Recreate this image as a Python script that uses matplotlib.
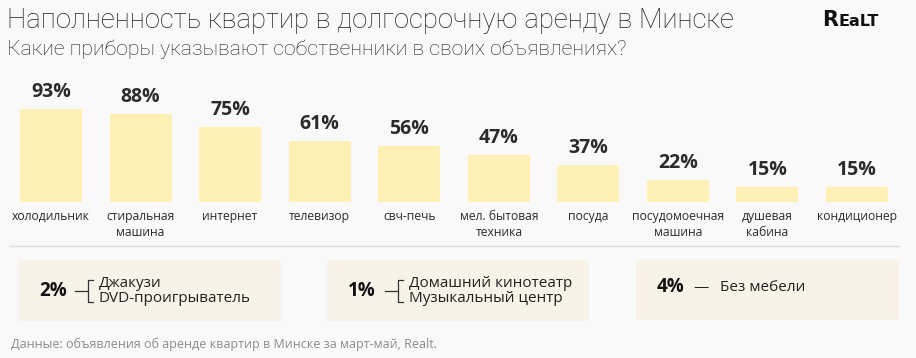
import matplotlib
matplotlib.use("Agg")
import matplotlib.pyplot as plt
from matplotlib.patches import Rectangle
from matplotlib.lines import Line2D

# данные
categories = ["холодильник", "стиральная\nмашина", "интернет", "телевизор", "свч-печь",
              "мел. бытовая\nтехника", "посуда", "посудомоечная\nмашина", "душевая\nкабина",
              "кондиционер"]
shares = [93, 88, 75, 61, 56, 47, 37, 22, 15, 15]

rare_shares = [2, 1, 4]
rare_items = [["Джакузи", "DVD-проигрыватель"],
              ["Домашний кинотеатр", "Музыкальный центр"],
              ["Без мебели"]]

title = "Наполненность квартир в долгосрочную аренду в Минске"
subtitle = "Какие приборы указывают собственники в своих объявлениях?"
source = "Данные: объявления об аренде квартир в Минске за март-май, Realt."

W, H = 916, 358
BG = "#f9f9f9"
BAR = "#fff0b5"
BOX = "#f7f3e8"
TXT = "#2b2b2b"


def fx(x):
    return x / W


def fy(y):
    return 1 - y / H


fig = plt.figure(figsize=(W / 100, H / 100), dpi=100, facecolor=BG)

# заголовки
fig.text(fx(7), fy(20), title, fontsize=19.8, family="Roboto", fontweight="light",
         color="#222222", va="center", ha="left")
fig.text(fx(7), fy(49), subtitle, fontsize=15.3, family="Roboto", fontweight="light",
         color="#222222", va="center", ha="left")
fig.text(fx(822), fy(20), "R", fontsize=15, family="DejaVu Sans", fontweight="bold",
         color="#111111", va="center", ha="left")
fig.text(fx(838), fy(21), "EaLT", fontsize=11.5, family="DejaVu Sans", fontweight="bold",
         color="#111111", va="center", ha="left")

# столбики
step = 89.56
ax = fig.add_axes([fx(51 - step / 2), fy(202), (10 * step) / W, 122 / H])
ax.set_facecolor("none")
x = list(range(len(shares)))
ax.bar(x, shares, width=0.692, color=BAR)
ax.set_xlim(-0.5, 9.5)
ax.set_ylim(0, 122)
ax.axis("off")

for i, v in enumerate(shares):
    ax.annotate(f"{v}%", (i, v), xytext=(0, 8.6), textcoords="offset points",
                ha="center", va="baseline", fontsize=14, fontweight="bold",
                family="Open Sans", color=TXT)
    ax.annotate(categories[i], (i, 0), xytext=(0, -6), textcoords="offset points",
                ha="center", va="top", fontsize=8.7, family="Open Sans",
                color=TXT, linespacing=1.25)

fig.add_artist(Line2D([fx(10), fx(898)], [fy(246), fy(246)], color="#dddddd", lw=1))

# редкие позиции
boxes = [(18, 260, 263, 61), (327, 260, 262, 61), (636, 259, 263, 61)]
pct_x = [39, 348, 657]
dash_x = [75, 385, 693]
for k, (bx, by, bw, bh) in enumerate(boxes):
    fig.add_artist(Rectangle((fx(bx), fy(by + bh)), bw / W, bh / H,
                             transform=fig.transFigure, facecolor=BOX, edgecolor="none"))
    cy = by + bh / 2 + 0.5 if len(rare_items[k]) > 1 else by + bh / 2 - 2
    fig.text(fx(pct_x[k]), fy(cy), f"{rare_shares[k]}%", fontsize=13.5, fontweight="bold",
             family="Open Sans", color="#111111", va="center", ha="left")
    x0 = dash_x[k]
    if len(rare_items[k]) > 1:
        fig.add_artist(Line2D([fx(x0), fx(x0 + 12)], [fy(cy), fy(cy)], color="#333333", lw=0.9))
        fig.add_artist(Line2D([fx(x0 + 18), fx(x0 + 13), fx(x0 + 13), fx(x0 + 18)],
                              [fy(cy - 11), fy(cy - 11), fy(cy + 11), fy(cy + 11)],
                              color="#333333", lw=0.9))
        fig.text(fx(x0 + 24), fy(cy), "\n".join(rare_items[k]), fontsize=11,
                 family="Open Sans", color="#222222", va="center", ha="left",
                 linespacing=1.05)
    else:
        fig.text(fx(x0), fy(cy), "—", fontsize=11, family="Open Sans",
                 color="#222222", va="center", ha="left")
        fig.text(fx(x0 + 27), fy(cy), rare_items[k][0], fontsize=11,
                 family="Open Sans", color="#222222", va="center", ha="left")

fig.text(fx(11), fy(344), source, fontsize=9, family="Open Sans", color="#8c8c8c",
         va="center", ha="left")

fig.savefig("out.png", dpi=100, facecolor=BG)
